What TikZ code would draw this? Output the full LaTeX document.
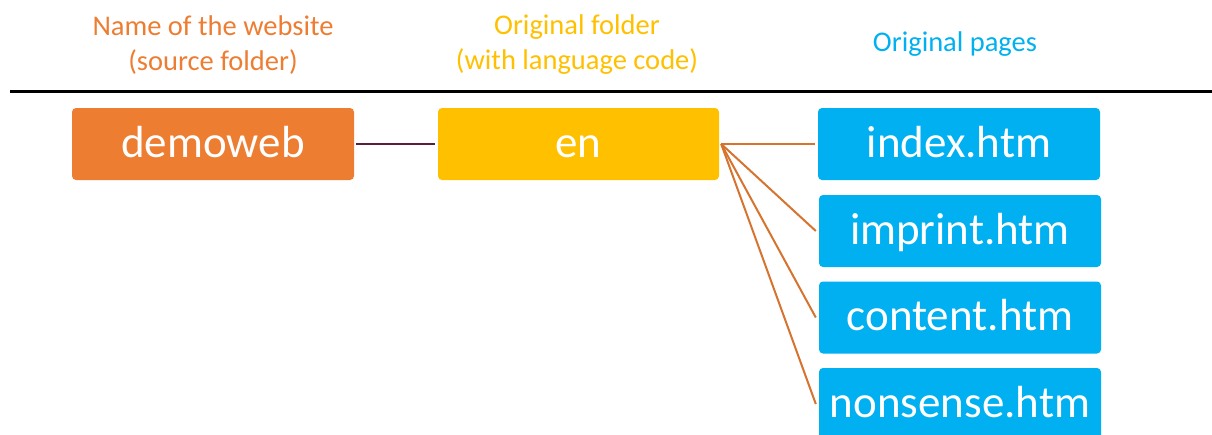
\documentclass[tikz,border=0pt]{standalone}
\usepackage{fontspec}
\setmainfont{Carlito}
\definecolor{webOrange}{HTML}{ED7D31}
\definecolor{folderGold}{HTML}{FFC000}
\definecolor{pageBlue}{HTML}{00B0F0}
\definecolor{linkBrown}{HTML}{D6732E}
\definecolor{linkPlum}{HTML}{5A1E3C}
\begin{document}
\begin{tikzpicture}[x=1pt,y=-1pt,
  box/.style={rounded corners=4pt, minimum height=72pt, inner sep=0pt,
    text height=32pt, text depth=6pt,
    text=white, font=\fontsize{45}{50}\selectfont},
  webbox/.style={box, fill=webOrange, minimum width=282pt},
  folderbox/.style={box, fill=folderGold, minimum width=281pt},
  pagebox/.style={box, fill=pageBlue, minimum width=282pt},
  head/.style={align=center, inner sep=0pt, font=\fontsize{28.5}{35}\selectfont},
  link/.style={line width=2pt, linkBrown}]
\useasboundingbox (0,0) rectangle (1212,434);
\begin{scope}
\clip (0,0) rectangle (1212,434);
% column headings
\node[head, text=webOrange] (h1) at (213,45) {Name of the website\\(source folder)};
\node[head, text=folderGold] (h2) at (577,45) {Original folder\\(with language code)};
\node[head, text=pageBlue] (h3) at (955,44) {Original pages};
\draw[line width=3pt] (10,91) -- (1212,91);
% folder tree
\node[webbox] (web) at (213,144) {demoweb};
\node[folderbox] (en) at (578.5,144) {en};
\node[pagebox] (p1) at (959,144) {index.htm};
\node[pagebox] (p2) at (960,231) {imprint.htm};
\node[pagebox] (p3) at (960,317.5) {content.htm};
\node[pagebox] (p4) at (960,404) {nonsense.htm};
\coordinate (fork) at ([xshift=2pt]en.east);
\draw[line width=2pt, linkPlum] ([xshift=2pt]web.east) -- ([xshift=-3pt]en.west);
\draw[link] (fork) -- ([xshift=-3pt]p1.west);
\draw[link] (fork) -- ([xshift=-3pt]p2.west);
\draw[link] (fork) -- ([xshift=-3pt]p3.west);
\draw[link] (fork) -- ([xshift=-3pt]p4.west);
\end{scope}
\end{tikzpicture}
\end{document}
